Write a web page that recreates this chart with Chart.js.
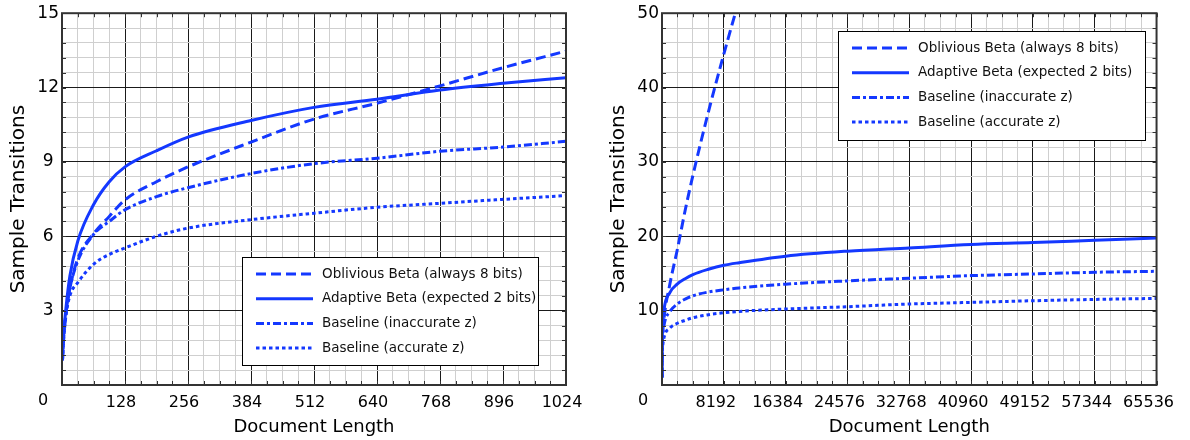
<!DOCTYPE html>
<html>
<head>
<meta charset="utf-8">
<script src="https://cdn.jsdelivr.net/npm/chart.js@4.4.1/dist/chart.umd.min.js"></script>
<style>
    html, body { margin: 0; padding: 0; background: #fff; }
    #wrap { position: relative; width: 1190px; height: 440px; }
    #leftBox { position: absolute; left: 0; top: 0; width: 600px; height: 440px; }
    #rightBox { position: absolute; left: 600px; top: 0; width: 590px; height: 440px; }
</style>
</head>
<body>
<div id="wrap">
    <div id="leftBox"><canvas id="leftChart"></canvas></div>
    <div id="rightBox"><canvas id="rightChart"></canvas></div>
</div>
<script>
// Series names (same in both panels)
var seriesLabels = ['Oblivious Beta (always 8 bits)', 'Adaptive Beta (expected 2 bits)',
    'Baseline (inaccurate z)', 'Baseline (accurate z)'];

// Left panel: document length up to 1024
var leftLengths = [1, 2, 4, 8, 16, 32, 64, 96, 128, 192, 256, 384, 512, 640, 768, 896, 1024];
var leftOblivious = [1.0, 1.5, 2.1, 2.9, 3.9, 5.1, 6.1, 6.8, 7.47, 8.2, 8.8, 9.8, 10.73, 11.37, 12.07, 12.8, 13.47];
var leftAdaptive = [1.0, 1.6, 2.2, 3.1, 4.4, 5.8, 7.27, 8.2, 8.8, 9.45, 10.0, 10.67, 11.2, 11.53, 11.9, 12.17, 12.4];
var leftInaccurate = [1.0, 1.5, 2.1, 2.9, 3.9, 5.0, 6.07, 6.6, 7.07, 7.6, 7.96, 8.53, 8.93, 9.15, 9.43, 9.6, 9.83];
var leftAccurate = [1.0, 1.4, 2.0, 2.8, 3.6, 4.13, 4.87, 5.27, 5.53, 6.0, 6.33, 6.67, 6.93, 7.17, 7.33, 7.49, 7.64];

// Right panel: document length up to 65536 (oblivious line leaves the plot early)
var rightLengths = [1, 16, 64, 256, 1024, 2048, 3072, 4096, 6144, 8192, 10240, 16384, 24576, 32768, 40960, 49152, 57344, 65536];
var rightOblivious = [1.0, 3.9, 6.1, 8.8, 13.47, 18.3, 23.5, 28.2, 36.7, 44.5, 51.9];
var rightAdaptive = [1.0, 4.4, 7.27, 10.0, 12.4, 13.6, 14.3, 14.85, 15.56, 16.1, 16.45, 17.33, 18.0, 18.44, 18.89, 19.15, 19.47, 19.78];
var rightInaccurate = [1.0, 3.9, 6.07, 7.96, 9.83, 10.9, 11.55, 12.0, 12.5, 12.8, 13.05, 13.56, 14.0, 14.36, 14.71, 14.93, 15.16, 15.29];
var rightAccurate = [1.0, 3.6, 4.87, 6.33, 7.64, 8.3, 8.7, 9.05, 9.45, 9.72, 9.9, 10.22, 10.53, 10.89, 11.11, 11.33, 11.51, 11.64];

// Labelled tick values
var leftXTicks = [0, 128, 256, 384, 512, 640, 768, 896, 1024];
var leftYTicks = [3, 6, 9, 12, 15];
var rightXTicks = [0, 8192, 16384, 24576, 32768, 40960, 49152, 57344, 65536];
var rightYTicks = [10, 20, 30, 40, 50];

var lineColor = '#1438ff';
var dashStyles = [[10, 5], [], [8, 3, 3, 3], [3.5, 3]];
var fontName = '"DejaVu Sans", "Liberation Sans", sans-serif';

function toPoints(xs, ys) {
    return ys.map(function (y, i) { return { x: xs[i], y: y }; });
}

function isLabelled(list, v) {
    return list.some(function (t) { return Math.abs(t - v) < 1e-6; });
}

// Frame, inward tick marks, corner "0" and the boxed legend
var framePlugin = {
    id: 'frame',
    afterDraw: function (chart) {
        var ctx = chart.ctx;
        var a = chart.chartArea;
        var opts = chart.options.plugins.frame;
        ctx.save();

        ctx.strokeStyle = '#333';
        ctx.lineWidth = 1;
        ctx.beginPath();
        chart.scales.x.ticks.forEach(function (t) {
            var px = Math.round(chart.scales.x.getPixelForValue(t.value)) + 0.5;
            ctx.moveTo(px, a.bottom); ctx.lineTo(px, a.bottom - 4);
            ctx.moveTo(px, a.top); ctx.lineTo(px, a.top + 4);
        });
        chart.scales.y.ticks.forEach(function (t) {
            var py = Math.round(chart.scales.y.getPixelForValue(t.value)) + 0.5;
            ctx.moveTo(a.left, py); ctx.lineTo(a.left + 4, py);
            ctx.moveTo(a.right, py); ctx.lineTo(a.right - 4, py);
        });
        ctx.stroke();

        ctx.lineWidth = 2;
        ctx.strokeStyle = '#333';
        ctx.strokeRect(a.left, a.top, a.right - a.left, a.bottom - a.top);

        ctx.fillStyle = '#000';
        ctx.font = '16px ' + fontName;
        ctx.textAlign = 'center';
        ctx.textBaseline = 'top';
        ctx.fillText('0', a.left - 19, a.bottom + 8);

        // legend box
        var b = opts.box;
        ctx.fillStyle = '#fff';
        ctx.fillRect(b.x, b.y, b.w, b.h);
        ctx.lineWidth = 1;
        ctx.strokeStyle = '#000';
        ctx.strokeRect(b.x + 0.5, b.y + 0.5, b.w, b.h);
        ctx.font = '13.5px ' + fontName;
        ctx.textAlign = 'left';
        ctx.textBaseline = 'middle';
        chart.data.datasets.forEach(function (ds, i) {
            var y = b.y + opts.rowStart + i * opts.rowStep;
            ctx.save();
            ctx.strokeStyle = ds.borderColor;
            ctx.lineWidth = ds.borderWidth;
            ctx.setLineDash(ds.borderDash);
            ctx.beginPath();
            ctx.moveTo(b.x + opts.sampleLeft, y);
            ctx.lineTo(b.x + opts.sampleLeft + opts.sampleWidth, y);
            ctx.stroke();
            ctx.restore();
            ctx.fillStyle = '#111';
            ctx.fillText(ds.label, b.x + opts.textLeft, y);
        });
        ctx.restore();
    }
};

function makeChart(canvasId, xs, seriesList, xMax, xStep, xTicks, yMax, yStep, yTicks, padRight, labelShift, legendBox) {
    var datasets = seriesList.map(function (ys, i) {
        return {
            label: seriesLabels[i],
            data: toPoints(xs, ys),
            borderColor: lineColor,
            backgroundColor: lineColor,
            borderWidth: 3,
            borderDash: dashStyles[i],
            borderCapStyle: 'butt',
            pointRadius: 0,
            cubicInterpolationMode: 'monotone',
            fill: false
        };
    });

    return new Chart(document.getElementById(canvasId), {
        type: 'line',
        data: { datasets: datasets },
        plugins: [framePlugin],
        options: {
            responsive: true,
            maintainAspectRatio: false,
            animation: false,
            layout: { padding: { left: 0, right: padRight, top: 10, bottom: 0 } },
            plugins: {
                legend: { display: false },
                tooltip: { enabled: false },
                frame: {
                    box: legendBox,
                    rowStart: 17,
                    rowStep: 24.7,
                    sampleLeft: 14,
                    sampleWidth: 57,
                    textLeft: 80
                }
            },
            scales: {
                x: {
                    type: 'linear',
                    min: 0,
                    max: xMax,
                    afterFit: function (scale) { scale.height = 55; },
                    border: { display: false },
                    grid: {
                        drawTicks: false,
                        lineWidth: 1,
                        color: function (c) { return isLabelled(xTicks, c.tick.value) ? '#1a1a1a' : '#cfcfcf'; }
                    },
                    ticks: {
                        stepSize: xStep,
                        autoSkip: false,
                        maxRotation: 0,
                        padding: 8,
                        labelOffset: labelShift,
                        color: '#000',
                        font: { family: fontName, size: 16 },
                        callback: function (v) { return (v !== 0 && isLabelled(xTicks, v)) ? String(v) : ''; }
                    },
                    title: {
                        display: true,
                        text: 'Document Length',
                        color: '#000',
                        font: { family: fontName, size: 18 },
                        padding: { top: 0, bottom: 2 }
                    }
                },
                y: {
                    type: 'linear',
                    min: 0,
                    max: yMax,
                    afterFit: function (scale) { scale.width = 62; },
                    border: { display: false },
                    grid: {
                        drawTicks: false,
                        lineWidth: 1,
                        color: function (c) { return isLabelled(yTicks, c.tick.value) ? '#1a1a1a' : '#cfcfcf'; }
                    },
                    ticks: {
                        stepSize: yStep,
                        autoSkip: false,
                        padding: 3,
                        crossAlign: 'center',
                        color: '#000',
                        font: { family: fontName, size: 17 },
                        callback: function (v) { return isLabelled(yTicks, v) ? String(Math.round(v)) : ''; }
                    },
                    title: {
                        display: true,
                        text: 'Sample Transitions',
                        color: '#000',
                        font: { family: fontName, size: 20 },
                        padding: { top: 7, bottom: 0 }
                    }
                }
            }
        }
    });
}

makeChart('leftChart', leftLengths, [leftOblivious, leftAdaptive, leftInaccurate, leftAccurate],
    1024, 32, leftXTicks, 15, 0.6, leftYTicks, 34, -4,
    { x: 242, y: 257, w: 296, h: 108 });

makeChart('rightChart', rightLengths, [rightOblivious, rightAdaptive, rightInaccurate, rightAccurate],
    65536, 2048, rightXTicks, 50, 2, rightYTicks, 25, -8,
    { x: 238, y: 31, w: 307, h: 109 });
</script>
</body>
</html>
